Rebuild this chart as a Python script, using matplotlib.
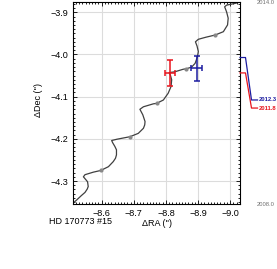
import numpy as np
import matplotlib
matplotlib.use('Agg')
import matplotlib.pyplot as plt
from matplotlib.ticker import MultipleLocator

# Star path (parallax + proper motion)
path_ra = [-8.507, -8.522, -8.536, -8.548, -8.555, -8.558, -8.556, -8.553, -8.543, -8.548, -8.574,
           -8.597, -8.621, -8.636, -8.643, -8.646, -8.646, -8.641, -8.634, -8.631, -8.647, -8.688,
           -8.714, -8.730, -8.734, -8.735, -8.728, -8.719, -8.730, -8.761, -8.771, -8.792, -8.807,
           -8.816, -8.818, -8.814, -8.810, -8.828, -8.854, -8.863, -8.880, -8.891, -8.898,
           -8.901, -8.897, -8.892, -8.901, -8.925, -8.953, -8.979, -8.992, -8.994, -8.989,
           -8.983, -8.989, -9.015, -9.034]
path_dec = [-4.355, -4.345, -4.335, -4.327, -4.319, -4.313, -4.302, -4.299, -4.290, -4.285, -4.279,
            -4.275, -4.266, -4.254, -4.246, -4.238, -4.226, -4.218, -4.209, -4.204, -4.201, -4.195,
            -4.187, -4.175, -4.167, -4.159, -4.143, -4.130, -4.124, -4.117, -4.116, -4.108, -4.092,
            -4.076, -4.060, -4.049, -4.043, -4.041, -4.035, -4.034, -4.030, -4.021, -4.006,
            -3.993, -3.980, -3.970, -3.964, -3.959, -3.954, -3.946, -3.930, -3.914, -3.899,
            -3.887, -3.883, -3.879, -3.875]

# Yearly markers along the path
year_ra = [-8.597, -8.688, -8.771, -8.863, -8.953]
year_dec = [-4.275, -4.195, -4.116, -4.034, -3.954]

# Measured companion positions
epochs = [2011.8, 2012.3]
epoch_labels = ['2011.8', '2012.3']
meas_ra = [-8.813, -8.896]
meas_dec = [-4.044, -4.033]
meas_ra_err = [0.015, 0.017]
meas_dec_err = [0.031, 0.030]
meas_colors = ['#e8141c', '#1c1ca0']

W, H = 277, 269
fig = plt.figure(figsize=(W / 100, H / 100), dpi=100)
plt.rcParams['font.family'] = ['Liberation Sans', 'DejaVu Sans']

# Main axes in pixel layout
ax = fig.add_axes([73 / W, 1 - 204 / H, 167 / W, 202 / H])
ax.set_xlim(-8.5106, -9.0308)
ax.set_ylim(-4.3545, -3.8756)

ax.grid(True, color='#dcdcdc', linewidth=0.8, zorder=0)
ax.plot(path_ra, path_dec, color='#404040', linewidth=0.9, zorder=2)
ax.plot(year_ra, year_dec, 'o', color='#888888', markersize=2.0, zorder=3)

for i in range(len(epochs)):
    ax.errorbar(meas_ra[i], meas_dec[i], xerr=meas_ra_err[i], yerr=meas_dec_err[i],
                color=meas_colors[i], linewidth=1.1, capsize=2.0, capthick=1.1, zorder=4)

ax.xaxis.set_major_locator(MultipleLocator(0.1))
ax.xaxis.set_minor_locator(MultipleLocator(0.01))
ax.yaxis.set_major_locator(MultipleLocator(0.1))
ax.yaxis.set_minor_locator(MultipleLocator(0.01))
ax.xaxis.set_major_formatter(plt.FuncFormatter(lambda v, p: ('%.1f' % v).replace('-', '\u2212')))
ax.yaxis.set_major_formatter(plt.FuncFormatter(lambda v, p: ('%.1f' % v).replace('-', '\u2212')))
ax.tick_params(which='both', direction='in', top=True, right=True, labelsize=6.5,
               width=0.6, pad=3.5)
ax.tick_params(which='major', length=3)
ax.tick_params(which='minor', length=1.5)
for s in ax.spines.values():
    s.set_linewidth(0.8)

ax.set_xlabel("\u0394RA ('')", fontsize=6.5, labelpad=1)
ax.set_ylabel("\u0394Dec ('')", fontsize=6.5)
ax.yaxis.set_label_coords(-0.18, 0.515)
fig.text(49 / W, 1 - 222 / H, 'HD 170773 #15', fontsize=6.5, ha='left', va='center')

# Epoch timeline on the right side
side = fig.add_axes([240 / W, 1 - 204 / H, 37 / W, 202 / H])
side.set_xlim(0, 37)
side.set_ylim(2007.55, 2014.1)
side.axis('off')
label_frac = [0.475, 0.515]
for i in range(len(epochs)):
    y1 = side.transAxes.transform((0, label_frac[i]))[1]
    y1 = side.transData.inverted().transform((0, y1))[1]
    side.plot([0, 5.5, 11.5, 17.5], [epochs[i], epochs[i], y1, y1],
              color=meas_colors[i], linewidth=0.9, clip_on=False)
    side.text(18.5, y1, epoch_labels[i], color=meas_colors[i], fontsize=4.2,
              ha='left', va='center', fontweight='bold')
fig.text(257 / W, 1 - 3 / H, '2014.0', color='#707070', fontsize=4.2, ha='left', va='center')
fig.text(257 / W, 1 - 204 / H, '2008.0', color='#707070', fontsize=4.2, ha='left', va='center')

fig.savefig('out.png', dpi=100)
